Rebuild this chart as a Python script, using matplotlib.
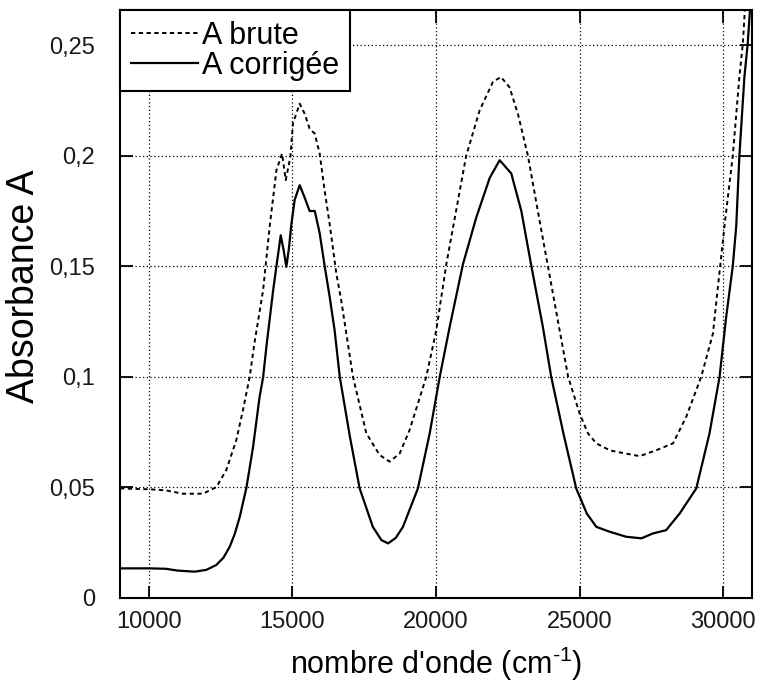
import matplotlib
matplotlib.use("Agg")
import matplotlib.pyplot as plt

plt.rcParams['font.family'] = ['Liberation Sans', 'DejaVu Sans']
plt.rcParams['mathtext.fontset'] = 'custom'
plt.rcParams['mathtext.rm'] = 'Liberation Sans'
plt.rcParams['axes.unicode_minus'] = False

# Raw absorbance (A brute)
wn_brute = [9000, 10030, 10600, 11190, 11890, 12355, 12700, 13050, 13280, 13510,
            13690, 13980, 14210, 14445, 14640, 14770, 14930, 15020, 15255, 15430,
            15600, 15780, 15950, 16125, 16300, 16530, 16700, 17110, 17575, 18040,
            18385, 18735, 19080, 19660, 20010, 20360, 21050, 21520, 21980, 22260,
            22560, 22850, 23200, 23600, 24070, 24600, 25000, 25290, 25580, 26040,
            26270, 27090, 27670, 28250, 28710, 29230, 29640, 29750, 30040, 30330,
            30560, 30680, 30770]
a_brute = [0.0494, 0.049, 0.0485, 0.047, 0.047, 0.050, 0.0577, 0.0713, 0.0848, 0.0996,
           0.116, 0.139, 0.168, 0.1934, 0.201, 0.189, 0.1995, 0.2146, 0.2236, 0.219,
           0.2123, 0.210, 0.201, 0.184, 0.169, 0.1467, 0.1346, 0.0999, 0.0743, 0.0645,
           0.0615, 0.0652, 0.0758, 0.0999, 0.121, 0.151, 0.200, 0.2206, 0.2334, 0.2357,
           0.231, 0.219, 0.200, 0.171, 0.1376, 0.0999, 0.0833, 0.0743, 0.0698, 0.0667,
           0.066, 0.064, 0.0667, 0.0698, 0.0818, 0.0999, 0.1195, 0.133, 0.168, 0.200,
           0.2357, 0.2508, 0.27]

# Corrected absorbance (A corrigée)
wn_corr = [9000, 10000, 10600, 11000, 11600, 12000, 12350, 12600, 12820, 13000,
           13170, 13400, 13630, 13860, 13980, 14100, 14330, 14445, 14595, 14700,
           14790, 14880, 14965, 15080, 15255, 15430, 15600, 15780, 15950, 16125,
           16300, 16470, 16650, 17000, 17340, 17800, 18100, 18330, 18600, 18850,
           19370, 19780, 20130, 20475, 20940, 21400, 21870, 22215, 22620, 22970,
           23320, 23720, 24010, 24440, 24880, 25250, 25580, 26040, 26620, 27150,
           27550, 28010, 28480, 29060, 29520, 29870, 30100, 30330, 30450, 30560,
           30735, 30850, 30950]
a_corr = [0.0132, 0.0132, 0.0130, 0.0122, 0.0117, 0.0125, 0.0147, 0.018, 0.023, 0.029,
          0.0366, 0.0497, 0.068, 0.0909, 0.0996, 0.114, 0.139, 0.150, 0.164, 0.157,
          0.1497, 0.158, 0.169, 0.180, 0.1867, 0.181, 0.175, 0.175, 0.165, 0.150,
          0.136, 0.121, 0.0999, 0.073, 0.0495, 0.032, 0.026, 0.0245, 0.027, 0.032,
          0.0494, 0.0743, 0.0999, 0.1225, 0.151, 0.172, 0.190, 0.198, 0.192, 0.175,
          0.150, 0.1225, 0.0999, 0.074, 0.0494, 0.038, 0.032, 0.0298, 0.0275, 0.0268,
          0.029, 0.0305, 0.038, 0.0494, 0.0743, 0.0999, 0.127, 0.150, 0.168, 0.200,
          0.2357, 0.2508, 0.27]

x_ticks = [10000, 15000, 20000, 25000, 30000]
x_tick_labels = ["10000", "15000", "20000", "25000", "30000"]
y_ticks = [0, 0.05, 0.1, 0.15, 0.2, 0.25]
y_tick_labels = ["0", "0,05", "0,1", "0,15", "0,2", "0,25"]

fig = plt.figure(figsize=(7.59, 6.86), dpi=100)
ax = fig.add_axes([0.1581, 0.129, 0.8327, 0.8564])

ax.plot(wn_brute, a_brute, color='black', lw=1.4, linestyle=(0, (2.2, 1.8)),
        label='A brute')
ax.plot(wn_corr, a_corr, color='black', lw=1.6, linestyle='-',
        label='A corrigée')

ax.set_xlim(9000, 31000)
ax.set_ylim(0, 0.266)
ax.set_xticks(x_ticks)
ax.set_xticklabels(x_tick_labels)
ax.set_yticks(y_ticks)
ax.set_yticklabels(y_tick_labels)

ax.grid(True, color='black', linestyle=(0, (1, 2)), lw=0.9)
ax.tick_params(direction='in', length=9, width=1.3, top=True, right=True,
               labelsize=17, pad=10, colors='black', labelcolor='#1a1a1a')
ax.tick_params(axis='y', pad=18)
for s in ax.spines.values():
    s.set_linewidth(1.5)

ax.set_xlabel(r"nombre d'onde (cm$^{\text{-1}}$)", fontsize=22, labelpad=8)
ax.set_ylabel("Absorbance A", fontsize=27)
ax.yaxis.set_label_coords(-0.124, 0.53)

leg = ax.legend(loc='upper left', bbox_to_anchor=(0, 1), borderaxespad=0,
                fontsize=22, fancybox=False, framealpha=1, edgecolor='black',
                handlelength=2.2, handletextpad=0.15, labelspacing=0.0,
                borderpad=0.35)
leg.get_frame().set_linewidth(1.5)

fig.savefig('out.png', dpi=100)
